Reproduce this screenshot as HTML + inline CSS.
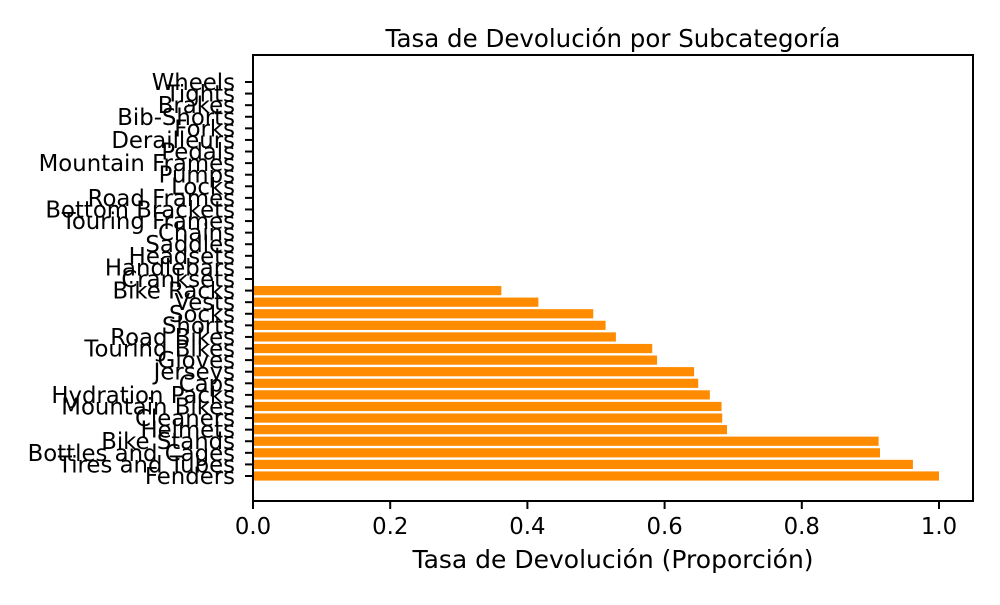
<!DOCTYPE html>
<html><head><meta charset="utf-8"><style>
body{margin:0;background:#fff;}
svg text{font-family:"DejaVu Sans","Liberation Sans",sans-serif;fill:#000;}
</style></head><body>
<svg id="chart" width="1000" height="600" xmlns="http://www.w3.org/2000/svg">
<text x="613" y="47" font-size="24.5" text-anchor="middle">Tasa de Devolución por Subcategoría</text>
<g id="bars"></g>
<g id="yaxis"></g>
<g id="xaxis"></g>
<rect x="253" y="55" width="720" height="446" fill="none" stroke="#000" stroke-width="2"/>
<text x="613" y="568" font-size="25" text-anchor="middle">Tasa de Devolución (Proporción)</text>
</svg>
<script>
const categories=["Fenders","Tires and Tubes","Bottles and Cages","Bike Stands","Helmets","Cleaners","Mountain Bikes","Hydration Packs","Caps","Jerseys","Gloves","Touring Bikes","Road Bikes","Shorts","Socks","Vests","Bike Racks","Cranksets","Handlebars","Headsets","Saddles","Chains","Touring Frames","Bottom Brackets","Road Frames","Locks","Pumps","Mountain Frames","Pedals","Derailleurs","Forks","Bib-Shorts","Brakes","Tights","Wheels"];
const values=[1.0,0.962,0.914,0.912,0.691,0.684,0.683,0.666,0.649,0.643,0.589,0.582,0.529,0.514,0.496,0.416,0.362,0,0,0,0,0,0,0,0,0,0,0,0,0,0,0,0,0,0];
const xTicks=[0,0.2,0.4,0.6,0.8,1.0];
const xTickLabels=["0.0","0.2","0.4","0.6","0.8","1.0"];
const NS="http://www.w3.org/2000/svg";
const x0=253,xScale=686;
const X=v=>x0+v*xScale;
const Y=i=>476-i*(394/34);
const bh=9.2;
const bars=document.getElementById('bars'),ya=document.getElementById('yaxis'),xa=document.getElementById('xaxis');
function mk(t,a,p){const e=document.createElementNS(NS,t);for(const k in a)e.setAttribute(k,a[k]);p.appendChild(e);return e;}
categories.forEach((c,i)=>{
  const r=mk('rect',{x:X(0),y:Y(i)-bh/2,width:Math.max(0,X(values[i])-X(0)),height:bh,fill:'#ff8c00'},bars);
  
  
  const tk=mk('line',{x1:x0-8,x2:x0,y1:Y(i),y2:Y(i),stroke:'#000','stroke-width':2},ya);
  
  
  const t=mk('text',{x:x0-18,y:Y(i)+8,'font-size':22.8,'text-anchor':'end'},ya);
  t.textContent=c;
  
  
});
xTicks.forEach((v,i)=>{
  const tk=mk('line',{x1:X(v),x2:X(v),y1:501,y2:509,stroke:'#000','stroke-width':2},xa);
  
  
  const t=mk('text',{x:X(v),y:534,'font-size':22.8,'text-anchor':'middle'},xa);
  t.textContent=xTickLabels[i];
  
  
});
</script>
</body></html>
